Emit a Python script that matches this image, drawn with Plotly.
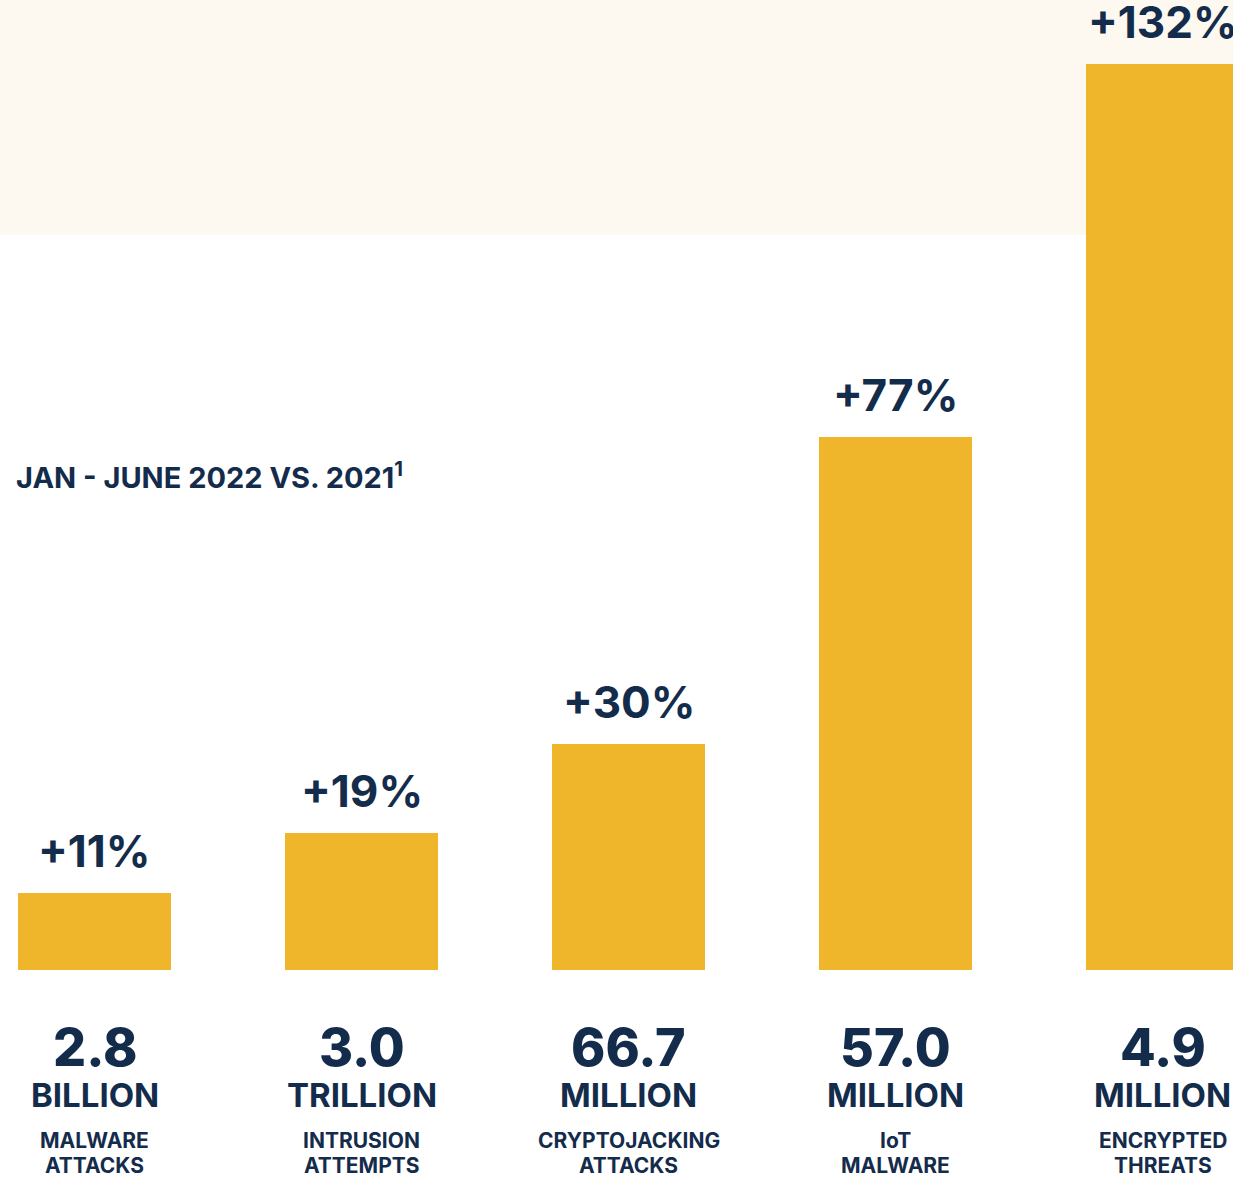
import plotly.graph_objects as go

# ---- data ----
categories = ["MALWARE<br>ATTACKS", "INTRUSION<br>ATTEMPTS", "CRYPTOJACKING<br>ATTACKS",
              "IoT<br>MALWARE", "ENCRYPTED<br>THREATS"]
pct_labels = ["+11%", "+19%", "+30%", "+77%", "+132%"]
# bar lengths as drawn (percent scale)
bar_heights = [11.2, 20.0, 32.9, 77.7, 132.0]
counts = ["2.8", "3.0", "66.7", "57.0", "4.9"]
units = ["BILLION", "TRILLION", "MILLION", "MILLION", "MILLION"]
title_text = "JAN - JUNE 2022 VS. 2021<sup>1</sup>"

# ---- style ----
W, H = 1233, 1187
GOLD = "#EFB52B"
NAVY = "#142C4C"
CREAM = "#FDF8F0"
FONT = "Inter"

base_px = 970.0
ppu = 906.0 / 132.0
x_ppu = 267.0
x0_px = 94.5

xs = list(range(len(categories)))

fig = go.Figure()
fig.add_trace(go.Bar(
    x=xs, y=bar_heights, width=153.0 / x_ppu,
    marker=dict(color=GOLD, line=dict(width=0)),
    hoverinfo="skip", showlegend=False,
))

def py(p):
    return 1 - p / H

ann = []
for i in xs:
    ann.append(dict(x=i, y=bar_heights[i], xref="x", yref="y", text=pct_labels[i],
                    showarrow=False, yanchor="middle", yshift=42,
                    font=dict(family=FONT, size=44, color=NAVY, weight=700)))
    ann.append(dict(x=i, y=py(1047), xref="x", yref="paper", text=counts[i],
                    showarrow=False, yanchor="middle",
                    font=dict(family=FONT, size=52, color=NAVY, weight=800)))
    ann.append(dict(x=i, y=py(1094.5), xref="x", yref="paper", text=units[i],
                    showarrow=False, yanchor="middle",
                    font=dict(family=FONT, size=33, color=NAVY, weight=700)))
    for line, cy in zip(categories[i].split("<br>"), (1140, 1165)):
        ann.append(dict(x=i, y=py(cy), xref="x", yref="paper", text=line,
                        showarrow=False, yanchor="middle",
                        font=dict(family=FONT, size=21, color=NAVY, weight=700)))

ann.append(dict(x=14 / W, y=py(475), xref="paper", yref="paper", text=title_text,
                showarrow=False, xanchor="left", yanchor="middle",
                font=dict(family=FONT, size=29, color=NAVY, weight=700)))

fig.update_layout(
    width=W, height=H,
    margin=dict(l=0, r=0, t=0, b=0),
    paper_bgcolor="white", plot_bgcolor="white",
    xaxis=dict(range=[-x0_px / x_ppu, (W - x0_px) / x_ppu], visible=False, fixedrange=True),
    yaxis=dict(range=[-(H - base_px) / ppu, base_px / ppu], visible=False, fixedrange=True),
    shapes=[dict(type="rect", xref="paper", yref="paper", x0=0, x1=1,
                 y0=py(235), y1=1, fillcolor=CREAM, line=dict(width=0), layer="below")],
    annotations=ann,
    bargap=0,
)

fig.write_html("out.html", config={"displayModeBar": False})
